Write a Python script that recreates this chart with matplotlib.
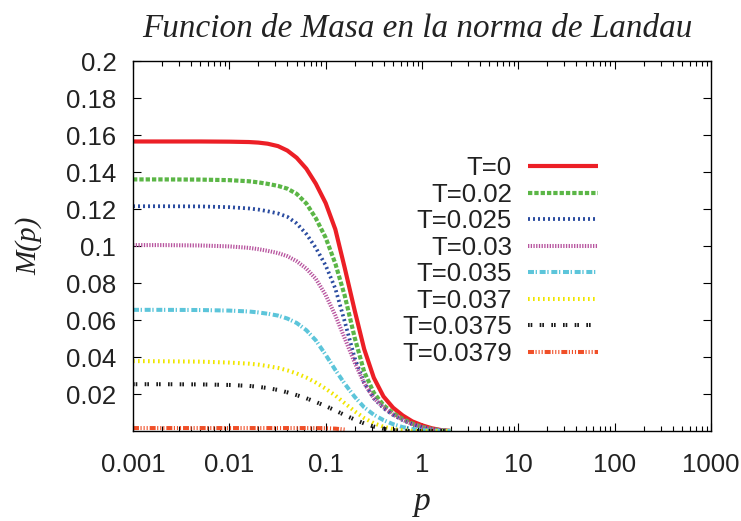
import numpy as np
import matplotlib
matplotlib.use('Agg')
import matplotlib.pyplot as plt
from matplotlib.ticker import LogLocator, FixedLocator, NullFormatter

plt.rcParams['font.family'] = ['Liberation Sans', 'DejaVu Sans']
plt.rcParams['lines.scale_dashes'] = False

# momento p y funcion de masa M(p) para cada temperatura
p = [0.001, 0.002, 0.005, 0.01, 0.016, 0.02, 0.025, 0.032, 0.04, 0.05,
     0.063, 0.079, 0.1, 0.126, 0.158, 0.2, 0.251, 0.316, 0.398, 0.501,
     0.631, 0.794, 1.0, 1.26, 1.58, 2.0]

m_t0 = [0.1565, 0.1565, 0.1565, 0.1564, 0.1562, 0.1559, 0.1553, 0.1540,
        0.1516, 0.1477, 0.1418, 0.1337, 0.1232, 0.1090, 0.0880, 0.0652,
        0.0443, 0.0288, 0.0187, 0.0126, 0.0084, 0.0052, 0.0031, 0.0015,
        0.0005, 0.0]
m_t020 = [0.1360, 0.1360, 0.1359, 0.1356, 0.1350, 0.1344, 0.1336, 0.1325,
          0.1310, 0.1282, 0.1230, 0.1150, 0.1045, 0.0905, 0.0730, 0.0505,
          0.0320, 0.0207, 0.0140, 0.0096, 0.0065, 0.0040, 0.0022, 0.0011,
          0.0004, 0.0]
m_t025 = [0.1215, 0.1215, 0.1214, 0.1210, 0.1203, 0.1197, 0.1188, 0.1176,
          0.1158, 0.1122, 0.1065, 0.0990, 0.0895, 0.0770, 0.0590, 0.0395,
          0.0260, 0.0177, 0.0124, 0.0087, 0.0059, 0.0036, 0.0020, 0.0010,
          0.0004, 0.0]
m_t030 = [0.1005, 0.1005, 0.1003, 0.0998, 0.0990, 0.0983, 0.0974, 0.0962,
          0.0945, 0.0918, 0.0878, 0.0823, 0.0735, 0.0625, 0.0500, 0.0370,
          0.0258, 0.0178, 0.0128, 0.0089, 0.0060, 0.0037, 0.0021, 0.0010,
          0.0004, 0.0]
m_t035 = [0.0655, 0.0655, 0.0654, 0.0651, 0.0646, 0.0641, 0.0634, 0.0624,
          0.0608, 0.0584, 0.0545, 0.0490, 0.0412, 0.0330, 0.0255, 0.0185,
          0.0128, 0.0088, 0.0059, 0.0037, 0.0021, 0.0011, 0.0005, 0.0002,
          0.0001, 0.0]
m_t037 = [0.0378, 0.0377, 0.0375, 0.0370, 0.0364, 0.0359, 0.0351, 0.0341,
          0.0328, 0.0311, 0.0289, 0.0262, 0.0229, 0.0192, 0.0150, 0.0107,
          0.0070, 0.0042, 0.0023, 0.0011, 0.0004, 0.0001, 0.0, 0.0,
          0.0, 0.0]
m_t0375 = [0.0253, 0.0253, 0.0252, 0.0249, 0.0244, 0.0239, 0.0232, 0.0222,
           0.0209, 0.0194, 0.0177, 0.0157, 0.0135, 0.0111, 0.0086, 0.0062,
           0.0041, 0.0024, 0.0012, 0.0005, 0.0001, 0.0, 0.0, 0.0,
           0.0, 0.0]
m_t0379 = [0.0016, 0.0016, 0.0016, 0.0016, 0.0016, 0.0016, 0.0016, 0.0016,
           0.0016, 0.0016, 0.0016, 0.0016, 0.0015, 0.0013, 0.0008, None,
           None, None, None, None, None, None, None, None,
           None, None]

labels = ['T=0', 'T=0.02', 'T=0.025', 'T=0.03', 'T=0.035', 'T=0.037',
          'T=0.0375', 'T=0.0379']
series = [m_t0, m_t020, m_t025, m_t030, m_t035, m_t037, m_t0375, m_t0379]

# estilos tipo gnuplot (guiones en puntos)
colors = ['#ec1f26', '#5bb646', '#2b4ca0', '#b8559f', '#5cc5da', '#f0e600',
          '#1a1a1a', '#f04f28']
styles = ['-', (0, (3.1, 1.45)), (0, (1.45, 2.15)), (0, (0.95, 1.0)),
          (0, (4.3, 1.2, 0.95, 1.95)), (0, (1.2, 2.4)),
          (0, (1.2, 0.7, 1.2, 5.3)),
          (0, (4.3, 1.1, 0.8, 1.4, 0.8, 1.4, 0.8, 1.4))]
widths = [3.0, 3.0, 2.7, 2.9, 2.9, 2.9, 2.9, 2.9]

fig = plt.figure(figsize=(7.41, 5.21), dpi=100)
ax = fig.add_axes([0.1795, 0.1727, 0.78, 0.7102])

for vals, lab, c, ls, lw in zip(series, labels, colors, styles, widths):
    y = np.array([np.nan if v is None else v for v in vals], dtype=float)
    ax.plot(p, y, color=c, linestyle=ls, linewidth=lw, label=lab,
            solid_capstyle='butt', dash_capstyle='butt')

ax.set_xscale('log')
ax.set_xlim(0.001, 1000)
ax.set_ylim(0, 0.2)

xticks = [0.001, 0.01, 0.1, 1, 10, 100, 1000]
ax.xaxis.set_major_locator(FixedLocator(xticks))
ax.set_xticklabels(['0.001', '0.01', '0.1', '1', '10', '100', '1000'])
ax.xaxis.set_minor_locator(LogLocator(base=10, subs=np.arange(2, 10), numticks=20))
ax.xaxis.set_minor_formatter(NullFormatter())

yticks = [0.02, 0.04, 0.06, 0.08, 0.1, 0.12, 0.14, 0.16, 0.18, 0.2]
ax.set_yticks(yticks)
ax.set_yticklabels(['%g' % v for v in yticks])

ax.tick_params(which='both', direction='in', top=True, right=True,
               labelsize=18.5, labelcolor='#222222', width=0.8)
ax.tick_params(which='major', length=6)
ax.tick_params(which='minor', length=3.5)
ax.tick_params(axis='x', which='major', pad=16)
ax.tick_params(axis='y', which='major', pad=12)
for s in ax.spines.values():
    s.set_linewidth(1.0)

serif = ['Liberation Serif', 'DejaVu Serif']
ax.set_title('Funcion de Masa en la norma de Landau', family=serif,
             style='italic', fontsize=23.9, color='#222222', pad=17.6,
             x=0.4915)
ax.set_xlabel('p', family=serif, style='italic', fontsize=24,
              color='#222222', labelpad=7)
ax.set_ylabel('M(p)', family=serif, style='italic', fontsize=21,
              color='#222222')
ax.yaxis.set_label_coords(-0.157, 0.5)

ax.legend(loc='upper right', bbox_to_anchor=(598 / 741, 1 - 156 / 521),
          bbox_transform=fig.transFigure, frameon=False, markerfirst=False,
          fontsize=18.5, handlelength=2.72, handletextpad=0.63,
          labelspacing=0.1, borderpad=0, borderaxespad=0,
          labelcolor='#222222')

fig.savefig('out.png', dpi=100)
